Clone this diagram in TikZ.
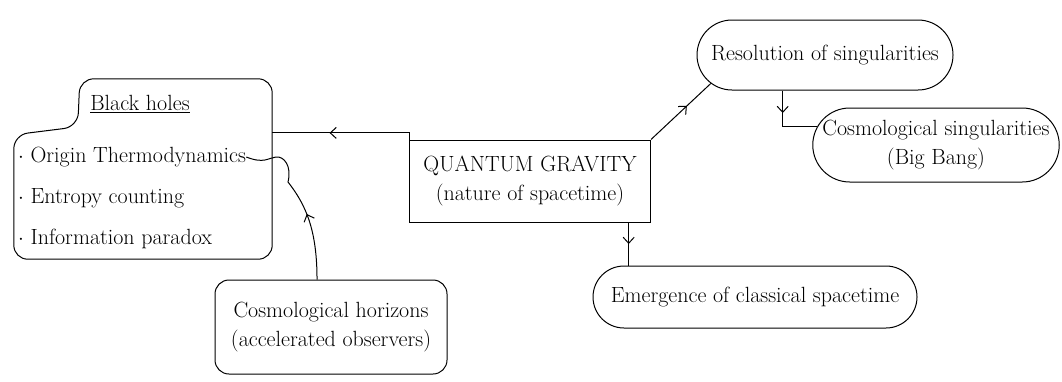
\documentclass[tikz,border=0pt]{standalone}
\usetikzlibrary{arrows.meta,decorations.markings}
\usetikzlibrary{positioning,calc}
\usetikzlibrary{shapes.misc}
\tikzset {
  sketch path/.style = {
    draw = black,
    line width = 1pt
  },
  % path style with one open arrow head somewhere along it
  arr/.style = {
    sketch path,
    postaction = {
      decorate,
      decoration = {
        markings,
        mark = at position #1 with {\arrow{Straight Barb[length=6pt,width=11pt]}}
      }
    }
  },
  arr/.default = 0.5
}
\tikzset {
  sketch node/.style = {
    draw = black,
    line width = 1pt,
    inner sep = 0pt,
    align = center
  },
  % topic in a plain box
  core/.style = {
    sketch node,
    rectangle
  },
  % topic in an oval
  oval/.style = {
    sketch node,
    rounded rectangle
  },
  % topic in a box with round corners
  panel/.style = {
    sketch node,
    rectangle,
    rounded corners = 14pt
  },
  % text line with no frame
  item/.style = {
    inner sep = 0pt,
    anchor = west
  },
  % area framed by hand afterwards
  area/.style = {
    inner sep = 0pt
  },
  node distance = 41pt
}

\begin{document}
\begin{tikzpicture}[x=1pt, y=-1pt, font=\fontsize{22}{29}\selectfont]
    \useasboundingbox (0,0) rectangle (1062,381);

    % black holes
    \node[area, minimum width=258pt, minimum height=180pt] (bh) at (143,169) {};
    \node (bh title) at (140,104) {\underline{Black holes}};
    \node[item] (bh orig) at (18,157) {$\cdot$ Origin Thermodynamics};
    \node[item] (bh entropy) [below=of bh orig.west, anchor=west] {$\cdot$ Entropy counting};
    \node[item] (bh info) [below=of bh entropy.west, anchor=west] {$\cdot$ Information paradox};

    \draw[sketch path, rounded corners=14pt]
      ($(bh.north east)+(-90,0)$)
      -- (bh.north east)
      -- (bh.south east)
      -- (bh.south west)
      -- ($(bh.north west)+(0,56)$)
      -- ($(bh.north west)+(64,48)$)
      -- ($(bh.north west)+(66,0)$)
      -- cycle;

    % centre
    \node[core, minimum width=241pt, minimum height=82pt] (qg) at (530,181)
      {QUANTUM GRAVITY\\(nature of spacetime)};

    % singularities
    \node[oval, minimum width=256pt, minimum height=70pt] (res) at (825,55)
      {Resolution of singularities};
    \node[oval, minimum width=238pt, minimum height=74pt] (cosmo sing) at (936,145)
      {Cosmological singularities\\(Big Bang)};

    % emergence
    \node[oval, minimum width=324pt, minimum height=62pt] (emerge) at (755,297)
      {Emergence of classical spacetime};

    % horizons
    \node[panel, minimum width=232pt, minimum height=94pt] (horizons) at (331,327)
      {Cosmological horizons\\(accelerated observers)};

    \coordinate (hz top) at ($(horizons.north west)!0.44!(horizons.north east)$);

    % links out of the centre
    \draw[arr=0.6] (qg.north west)
      |- ($(bh.north east)!0.3!(bh.south east)$);

    \draw[arr=0.6] (qg.north east) -- (res.194);

    \draw[arr] (emerge.166 |- qg.south) -- (emerge.166);

    % resolution down to the big bang
    \draw[arr=0.32] (res.220) |- (cosmo sing.171);

    % horizons up to the thermodynamics line
    \draw[arr=0.4] (hz top)
      .. controls (317,230) and (306,205) .. (288,182)
      .. controls (292,166) and (284,156) .. (276,157)
      .. controls (268,158) and (264,164) .. (bh orig.east);
\end{tikzpicture}
\end{document}
